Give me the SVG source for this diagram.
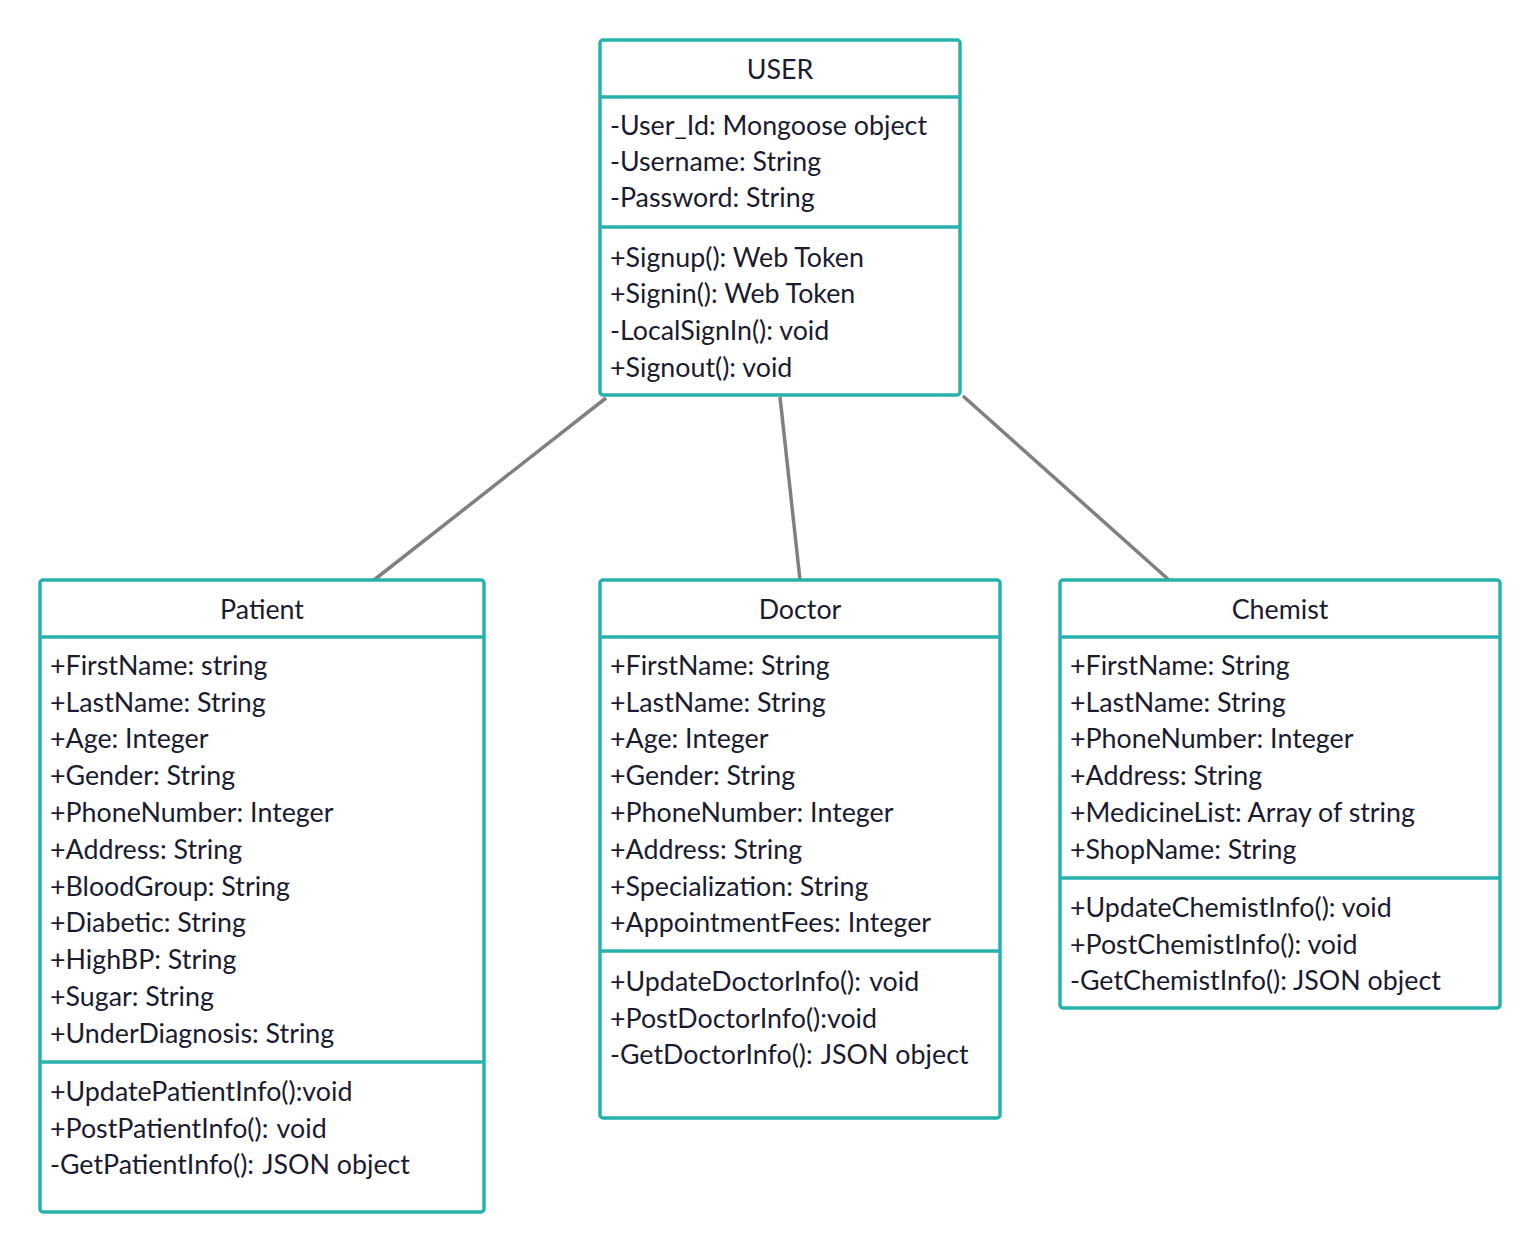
<svg xmlns="http://www.w3.org/2000/svg" width="1540" height="1252" viewBox="0 0 1540 1252">
<style>
.box{fill:#fff;stroke:#27b1ad;stroke-width:3.5}
.div{stroke:#27b1ad;stroke-width:3.5}
.t{font-family:Lato,"Noto Sans",sans-serif;font-size:26.8px;fill:#1b1b2f;white-space:pre}
.c{text-anchor:middle}
.con{stroke:#808080;stroke-width:3.5;fill:none}
</style>
<rect width="1540" height="1252" fill="#fff"/>
<g id="connectors">
<line class="con" x1="606" y1="398" x2="374" y2="580"/>
<line class="con" x1="780" y1="397" x2="800" y2="580"/>
<line class="con" x1="963" y1="396" x2="1169" y2="580"/>
</g>
<g id="user">
<rect class="box" x="600" y="40" width="360" height="355" rx="3"/>
<line class="div" x1="600" y1="97" x2="960" y2="97"/>
<line class="div" x1="600" y1="227" x2="960" y2="227"/>
<text class="t c" x="780" y="79">USER</text>
<text class="t" x="610" y="135">-User_Id: Mongoose object</text>
<text class="t" x="610" y="171">-Username: String</text>
<text class="t" x="610" y="207">-Password: String</text>
<text class="t" x="610" y="267">+Signup(): Web Token</text>
<text class="t" x="610" y="303">+Signin(): Web Token</text>
<text class="t" x="610" y="340">-LocalSignIn(): void</text>
<text class="t" x="610" y="377">+Signout(): void</text>
</g>
<g id="patient">
<rect class="box" x="40" y="580" width="444" height="632" rx="3"/>
<line class="div" x1="40" y1="637" x2="484" y2="637"/>
<line class="div" x1="40" y1="1062" x2="484" y2="1062"/>
<text class="t c" x="262" y="619">Patient</text>
<text class="t" x="50" y="675">+FirstName: string</text>
<text class="t" x="50" y="712">+LastName: String</text>
<text class="t" x="50" y="748">+Age: Integer</text>
<text class="t" x="50" y="785">+Gender: String</text>
<text class="t" x="50" y="822">+PhoneNumber: Integer</text>
<text class="t" x="50" y="859">+Address: String</text>
<text class="t" x="50" y="896">+BloodGroup: String</text>
<text class="t" x="50" y="932">+Diabetic: String</text>
<text class="t" x="50" y="969">+HighBP: String</text>
<text class="t" x="50" y="1006">+Sugar: String</text>
<text class="t" x="50" y="1043">+UnderDiagnosis: String</text>
<text class="t" x="50" y="1101">+UpdatePatientInfo():void</text>
<text class="t" x="50" y="1138">+PostPatientInfo(): <tspan dx="2">void</tspan></text>
<text class="t" x="50" y="1174">-GetPatientInfo(): <tspan dx="2">JSON object</tspan></text>
</g>
<g id="doctor">
<rect class="box" x="600" y="580" width="400" height="538" rx="3"/>
<line class="div" x1="600" y1="637" x2="1000" y2="637"/>
<line class="div" x1="600" y1="951" x2="1000" y2="951"/>
<text class="t c" x="800" y="619">Doctor</text>
<text class="t" x="610" y="675">+FirstName: String</text>
<text class="t" x="610" y="712">+LastName: String</text>
<text class="t" x="610" y="748">+Age: Integer</text>
<text class="t" x="610" y="785">+Gender: String</text>
<text class="t" x="610" y="822">+PhoneNumber: Integer</text>
<text class="t" x="610" y="859">+Address: String</text>
<text class="t" x="610" y="896">+Specialization: String</text>
<text class="t" x="610" y="932">+AppointmentFees: Integer</text>
<text class="t" x="610" y="991">+UpdateDoctorInfo(): <tspan dx="2">void</tspan></text>
<text class="t" x="610" y="1028">+PostDoctorInfo():void</text>
<text class="t" x="610" y="1064">-GetDoctorInfo(): <tspan dx="2">JSON object</tspan></text>
</g>
<g id="chemist">
<rect class="box" x="1060" y="580" width="440" height="428" rx="3"/>
<line class="div" x1="1060" y1="637" x2="1500" y2="637"/>
<line class="div" x1="1060" y1="878" x2="1500" y2="878"/>
<text class="t c" x="1280" y="619">Chemist</text>
<text class="t" x="1070" y="675">+FirstName: String</text>
<text class="t" x="1070" y="712">+LastName: String</text>
<text class="t" x="1070" y="748">+PhoneNumber: Integer</text>
<text class="t" x="1070" y="785">+Address: String</text>
<text class="t" x="1070" y="822">+MedicineList: Array of string</text>
<text class="t" x="1070" y="859">+ShopName: String</text>
<text class="t" x="1070" y="917">+UpdateChemistInfo(): void</text>
<text class="t" x="1070" y="954">+PostChemistInfo(): void</text>
<text class="t" x="1070" y="990">-GetChemistInfo(): JSON object</text>
</g>
</svg>
